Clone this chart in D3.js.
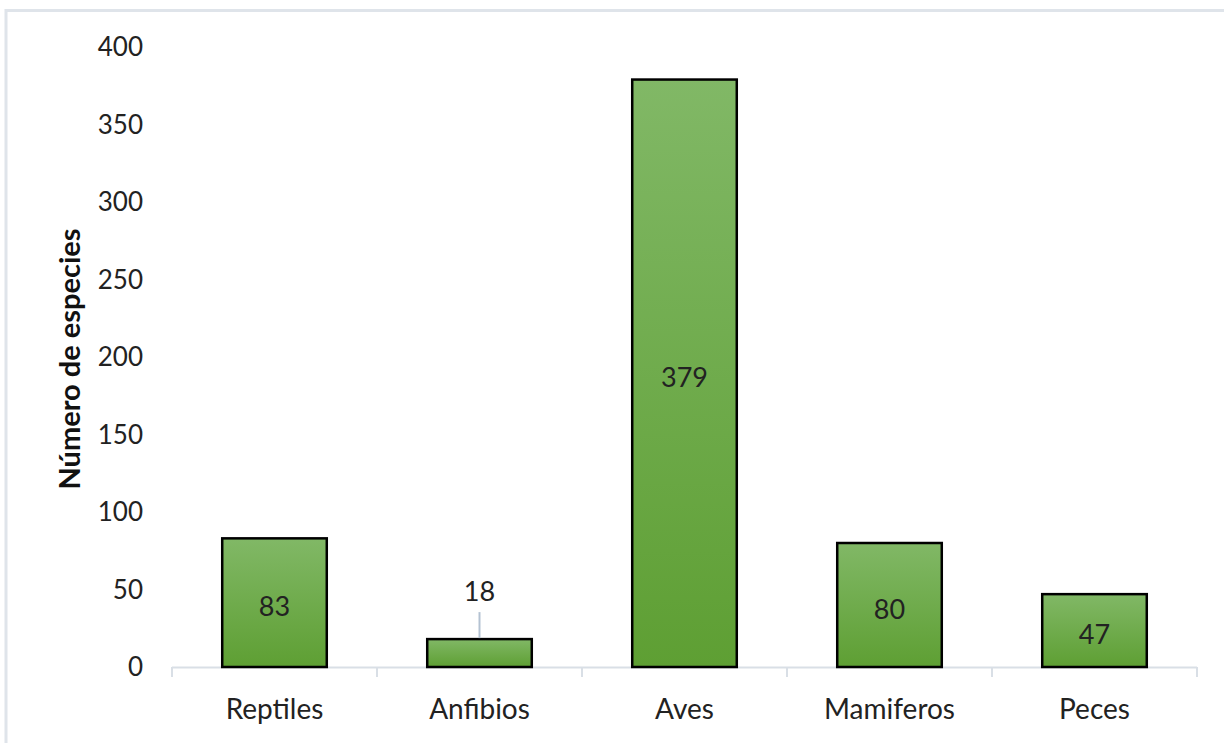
<!DOCTYPE html>
<html><head><meta charset="utf-8">
<script src="https://cdn.jsdelivr.net/npm/d3@7"></script>
<style>body{margin:0;background:#fff}svg{display:block}</style>
</head><body>
<svg id="c" width="1224" height="743"></svg>
<script>
const categories = ["Reptiles","Anfibios","Aves","Mamiferos","Peces"];
const values = [83,18,379,80,47];
const yTicks = [0,50,100,150,200,250,300,350,400];
const yTitle = "Número de especies";

(function(){
const svg = d3.select("#c");
const font = "Lato, 'Open Sans', sans-serif";

// chart border
svg.append("rect").attr("x",6).attr("y",10.5).attr("width",1230).attr("height",750)
  .attr("fill","#fff").attr("stroke","#dfe4ea").attr("stroke-width",3);

const pl=172, pr=1197, pt=47, pb=667;
const x = d3.scaleBand().domain(categories).range([pl,pr]).paddingInner(0.49).paddingOuter(0.245);
const xb = d3.scaleBand().domain(categories).range([pl,pr]);
const y = d3.scaleLinear().domain([0,400]).range([pb,pt]);

const defs = svg.append("defs");
const g = defs.append("linearGradient").attr("id","gr").attr("x1",0).attr("y1",0).attr("x2",0).attr("y2",1);
g.append("stop").attr("offset","0%").attr("stop-color","#81b866");
g.append("stop").attr("offset","100%").attr("stop-color","#5e9f33");

// y tick labels
svg.append("g").selectAll("text").data(yTicks).join("text")
  .attr("x",143).attr("y",d=>y(d)).attr("dy","0.36em").attr("text-anchor","end")
  .attr("font-family",font).attr("font-size",26).attr("fill","#222").text(d=>d);

// x axis line and ticks
const ax = svg.append("g").attr("stroke","#d9dfe6").attr("stroke-width",2).attr("fill","none");
ax.append("line").attr("x1",pl).attr("x2",pr).attr("y1",pb+0.5).attr("y2",pb+0.5);
const bounds = categories.map(c=>xb(c)).concat([pr]);
ax.selectAll("line.t").data(bounds).join("line").attr("class","t")
  .attr("x1",d=>d).attr("x2",d=>d).attr("y1",pb).attr("y2",pb+10);

// bars
svg.append("g").selectAll("rect").data(values).join("rect")
  .attr("x",(d,i)=>x(categories[i])).attr("width",x.bandwidth())
  .attr("y",d=>y(d)).attr("height",d=>y(0)-y(d))
  .attr("fill","url(#gr)").attr("stroke","#000").attr("stroke-width",2.5);

// x labels
svg.append("g").selectAll("text").data(categories).join("text")
  .attr("x",d=>xb(d)+xb.bandwidth()/2).attr("y",709).attr("dy","0.36em").attr("text-anchor","middle")
  .attr("font-family",font).attr("font-size",28).attr("fill","#222").text(d=>d);

// data labels
const lab = svg.append("g");
values.forEach((v,i)=>{
  const cx = xb(categories[i])+xb.bandwidth()/2;
  const h = y(0)-y(v);
  if (h>60){
    lab.append("text").attr("x",cx).attr("y",(y(v)+y(0))/2+4).attr("dy","0.36em").attr("text-anchor","middle")
      .attr("font-family",font).attr("font-size",27).attr("fill","#222").text(v);
  } else {
    lab.append("line").attr("x1",cx).attr("x2",cx).attr("y1",y(v)-27).attr("y2",y(v)-1)
      .attr("stroke","#b4c2d2").attr("stroke-width",2);
    lab.append("text").attr("x",cx).attr("y",y(v)-48).attr("dy","0.36em").attr("text-anchor","middle")
      .attr("font-family",font).attr("font-size",27).attr("fill","#222").text(v);
  }
});

// y title
svg.append("text").attr("transform","translate(70,359) rotate(-90)").attr("text-anchor","middle").attr("dy","0.36em")
  .attr("font-family",font).attr("font-weight","bold").attr("font-size",29).attr("fill","#111").text(yTitle);
})();
</script>
</body></html>
